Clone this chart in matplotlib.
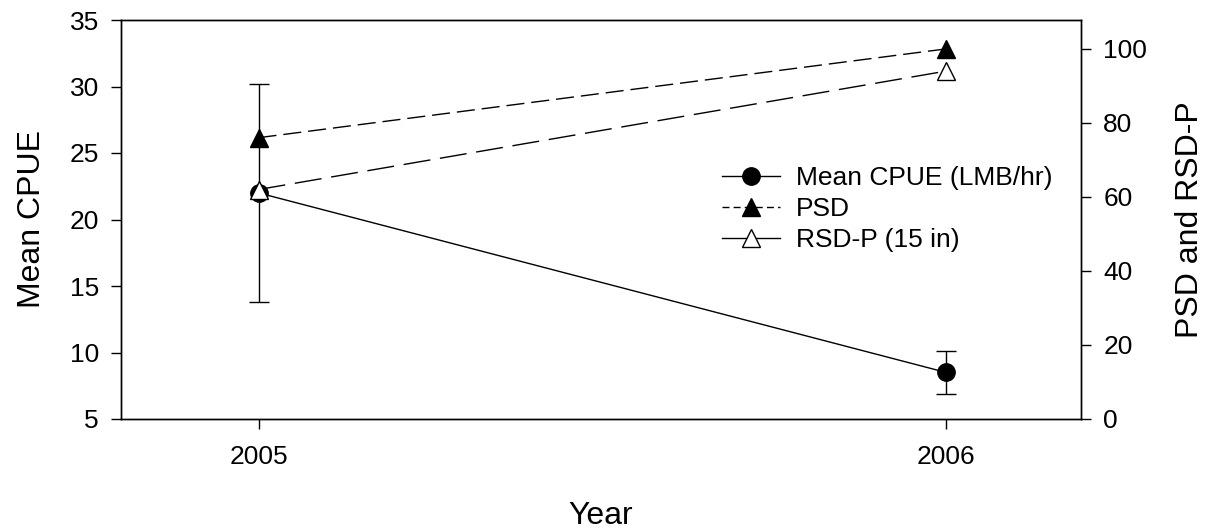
import matplotlib
matplotlib.use("Agg")
import matplotlib.pyplot as plt
from matplotlib.lines import Line2D

plt.rcParams['font.family'] = ['Liberation Sans', 'DejaVu Sans']

years = [2005, 2006]
cpue = [22.0, 8.5]
cpue_err = [8.2, 1.6]
psd = [76, 100]
rsdp = [62, 94]

W, H = 1209, 529
fig = plt.figure(figsize=(W / 100, H / 100), dpi=100)
ax = fig.add_axes([121 / W, 1 - 419 / H, (1081 - 121) / W, (419 - 20) / H])
ax2 = ax.twinx()

lw = 1.0
ax.errorbar(years, cpue, yerr=cpue_err, color='black', lw=lw, elinewidth=lw,
            capsize=7, capthick=lw, marker='o', ms=12.5, mfc='black', mec='black',
            zorder=3)
ax2.plot(years, psd, color='black', lw=lw, dashes=(13, 5), marker='^', ms=12.5,
         mfc='black', mec='black', zorder=3)
ax2.plot(years, rsdp, color='black', lw=lw, dashes=(19.5, 7), marker='^', ms=12.5,
         mfc='white', mec='black', mew=1.0, zorder=4)

ax.set_xlim(2004.80, 2006.196)
ax.set_ylim(5, 35)
ax2.set_ylim(0, 107.8)
ax.set_xticks(years)
ax.set_xticklabels([str(y) for y in years])
ax.set_yticks([5, 10, 15, 20, 25, 30, 35])
ax2.set_yticks([0, 20, 40, 60, 80, 100])

for a in (ax, ax2):
    for s in a.spines.values():
        s.set_linewidth(1.0)
ax.tick_params(axis='both', direction='out', length=7, width=1.0, labelsize=19, pad=9)
ax.tick_params(axis='x', pad=12)
ax2.tick_params(axis='y', direction='out', length=7, width=1.0, labelsize=19, pad=9)

ax.set_ylabel('Mean CPUE', fontsize=23, labelpad=16)
ax2.set_ylabel('PSD and RSD-P', fontsize=23, labelpad=20)
ax.set_xlabel('Year', fontsize=23, labelpad=23)

handles = [
    Line2D([], [], color='black', lw=lw, marker='o', ms=12.5, mfc='black', mec='black'),
    Line2D([], [], color='black', lw=lw, dashes=(5, 3), marker='^', ms=12.5, mfc='black', mec='black'),
    Line2D([], [], color='black', lw=lw, marker='^', ms=12.5, mfc='white', mec='black'),
]
labels = ['Mean CPUE (LMB/hr)', 'PSD', 'RSD-P (15 in)']
ax2.legend(handles, labels, loc='upper left', bbox_to_anchor=(722 / W, 1 - 166 / H),
           bbox_transform=fig.transFigure, frameon=False, fontsize=19,
           handlelength=2.2, handletextpad=0.6, labelspacing=0.27,
           borderpad=0, borderaxespad=0)

fig.savefig('out.png', dpi=100)
